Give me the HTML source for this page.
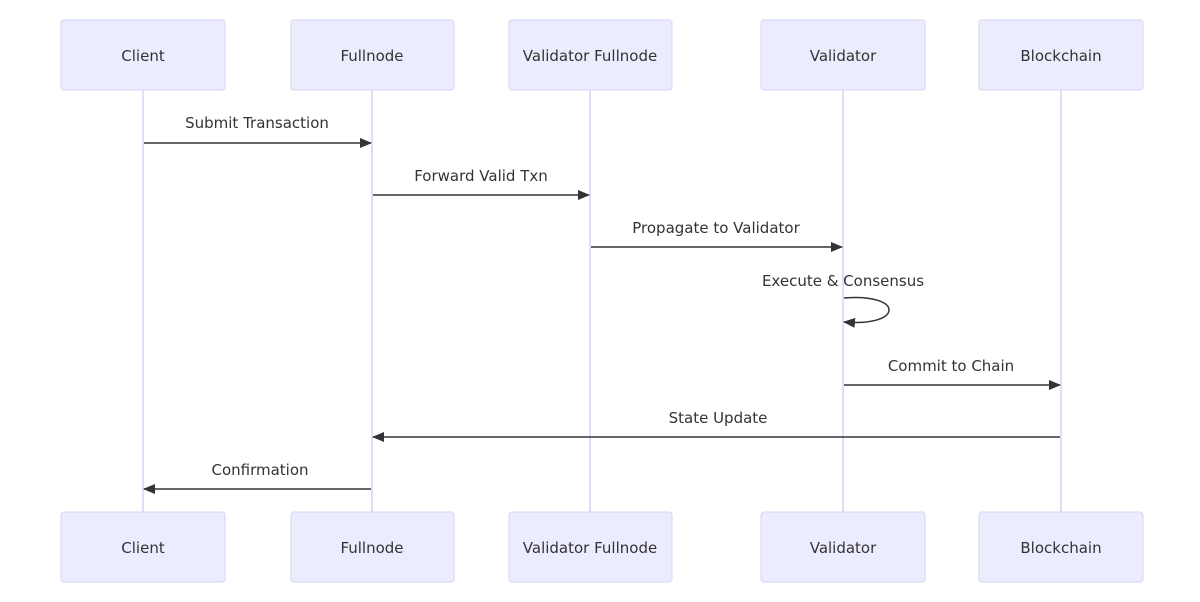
<!DOCTYPE html>
<html><head><meta charset="utf-8"><style>
html,body{margin:0;padding:0;background:#fff;}
svg{display:block;}
text{font-family:"DejaVu Sans","Liberation Sans",sans-serif;font-size:15px;fill:#333;}
.b{fill:#ececff;stroke:#d6d4f4;stroke-width:1;}
.l{stroke:#d6d4f4;stroke-width:1.5;}
.m{stroke:#333;stroke-width:1.5;fill:none;}
</style></head><body>
<svg width="1200" height="602" viewBox="0 0 1200 602">
<defs><marker id="a" markerWidth="12" markerHeight="10" refX="11" refY="5" orient="auto" markerUnits="userSpaceOnUse"><path d="M0,0 L12,5 L0,10 z" fill="#333"/></marker></defs>
<line class="l" x1="143" y1="90" x2="143" y2="512"/>
<line class="l" x1="372" y1="90" x2="372" y2="512"/>
<line class="l" x1="590" y1="90" x2="590" y2="512"/>
<line class="l" x1="843" y1="90" x2="843" y2="512"/>
<line class="l" x1="1061" y1="90" x2="1061" y2="512"/>
<g text-anchor="middle">
<rect class="b" x="61" y="20" width="164" height="70" rx="3"/><text x="143" y="61">Client</text>
<rect class="b" x="291" y="20" width="163" height="70" rx="3"/><text x="372" y="61">Fullnode</text>
<rect class="b" x="509" y="20" width="163" height="70" rx="3"/><text x="590" y="61">Validator Fullnode</text>
<rect class="b" x="761" y="20" width="164" height="70" rx="3"/><text x="843" y="61">Validator</text>
<rect class="b" x="979" y="20" width="164" height="70" rx="3"/><text x="1061" y="61">Blockchain</text>
<rect class="b" x="61" y="512" width="164" height="70" rx="3"/><text x="143" y="553">Client</text>
<rect class="b" x="291" y="512" width="163" height="70" rx="3"/><text x="372" y="553">Fullnode</text>
<rect class="b" x="509" y="512" width="163" height="70" rx="3"/><text x="590" y="553">Validator Fullnode</text>
<rect class="b" x="761" y="512" width="164" height="70" rx="3"/><text x="843" y="553">Validator</text>
<rect class="b" x="979" y="512" width="164" height="70" rx="3"/><text x="1061" y="553">Blockchain</text>
<text x="257" y="128">Submit Transaction</text>
<text x="481" y="181">Forward Valid Txn</text>
<text x="716" y="233">Propagate to Validator</text>
<text x="843" y="286">Execute &amp; Consensus</text>
<text x="951" y="371">Commit to Chain</text>
<text x="718" y="423">State Update</text>
<text x="260" y="475">Confirmation</text>
</g>
<line class="m" x1="144" y1="143" x2="371" y2="143" marker-end="url(#a)"/>
<line class="m" x1="373" y1="195" x2="589" y2="195" marker-end="url(#a)"/>
<line class="m" x1="591" y1="247" x2="842" y2="247" marker-end="url(#a)"/>
<path class="m" d="M844,298 C904,293 904,327 844,322" marker-end="url(#a)"/>
<line class="m" x1="844" y1="385" x2="1060" y2="385" marker-end="url(#a)"/>
<line class="m" x1="1060" y1="437" x2="373" y2="437" marker-end="url(#a)"/>
<line class="m" x1="371" y1="489" x2="144" y2="489" marker-end="url(#a)"/>
</svg>
</body></html>
